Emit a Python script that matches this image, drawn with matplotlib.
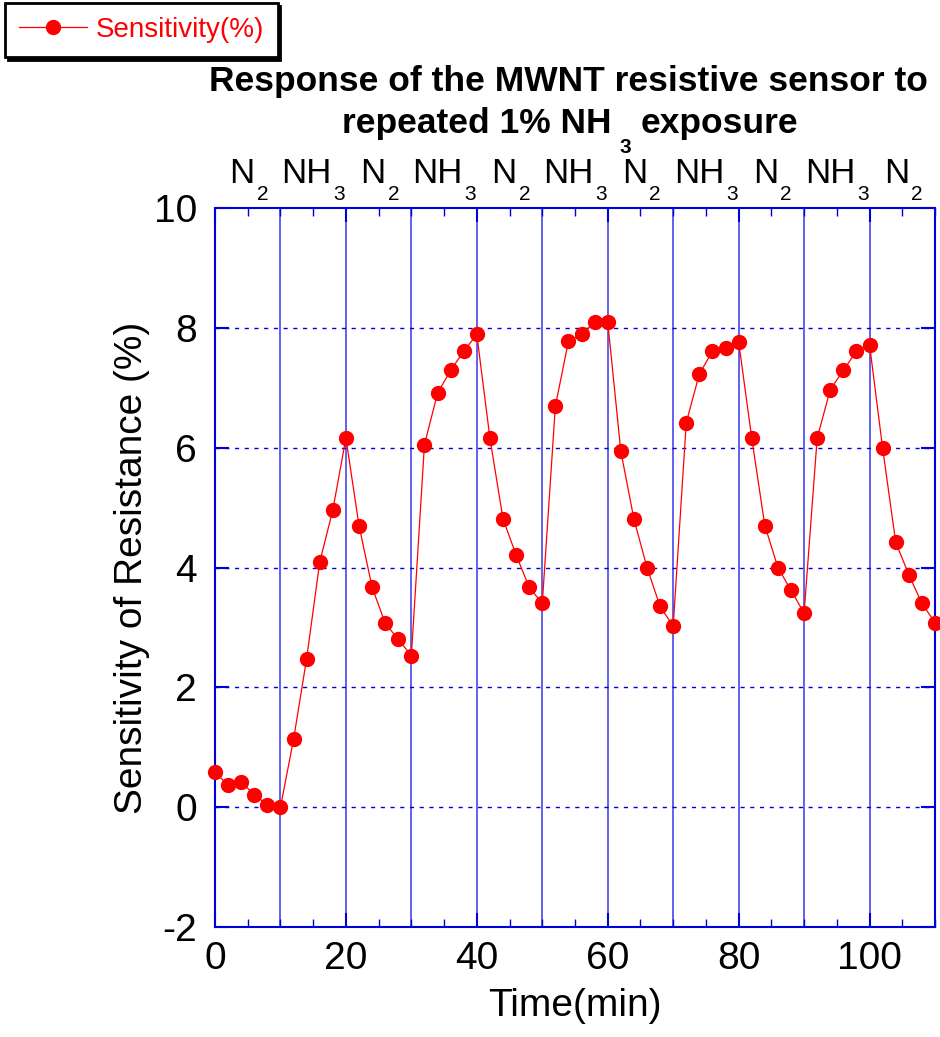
import numpy as np
import matplotlib.pyplot as plt

plt.rcParams['font.family'] = ['Liberation Sans', 'DejaVu Sans']
plt.rcParams['axes.unicode_minus'] = False

# sensitivity readings, one every 2 min
time_min = list(range(0, 112, 2))
sensitivity = [0.58, 0.37, 0.42, 0.21, 0.04, 0.00, 1.13, 2.48, 4.09, 4.96,
               6.16, 4.70, 3.67, 3.07, 2.80, 2.53, 6.05, 6.91, 7.29, 7.61,
               7.89, 6.16, 4.81, 4.21, 3.67, 3.40, 6.69, 7.78, 7.89, 8.10,
               8.10, 5.94, 4.81, 4.00, 3.35, 3.02, 6.42, 7.23, 7.61, 7.67,
               7.77, 6.16, 4.70, 4.00, 3.62, 3.24, 6.16, 6.97, 7.29, 7.61,
               7.72, 5.99, 4.42, 3.88, 3.40, 3.08]

# gas phases (10 min each)
phase_mid = [5, 15, 25, 35, 45, 55, 65, 75, 85, 95, 105]
phase_gas = ['N', 'NH', 'N', 'NH', 'N', 'NH', 'N', 'NH', 'N', 'NH', 'N']
phase_sub = ['2', '3', '2', '3', '2', '3', '2', '3', '2', '3', '2']
switch_times = [10, 20, 30, 40, 50, 60, 70, 80, 90, 100]

blue = '#0000dd'
W, H = 940, 1037

fig = plt.figure(figsize=(9.4, 10.37), dpi=100)
ax = fig.add_axes([215/W, 1-927/H, 720/W, 719/H])

for t in switch_times:
    ax.axvline(t, color='#5555ee', lw=1.3, zorder=1)
for yv in [0, 2, 4, 6, 8]:
    ax.axhline(yv, color=blue, lw=1.0, ls=(0, (3, 4)), zorder=1)

line, = ax.plot(time_min, sensitivity, color='red', lw=0.9, marker='o',
                markersize=10, markeredgecolor='red', zorder=3, clip_on=False,
                label='Sensitivity(%)')

ax.set_xlim(0, 110)
ax.set_ylim(-2, 10)
ax.set_xticks([0, 20, 40, 60, 80, 100])
ax.set_xticks(np.arange(0, 111, 5), minor=True)
ax.set_yticks([-2, 0, 2, 4, 6, 8, 10])
ax.tick_params(which='major', direction='in', length=10, width=1.5, color=blue,
               top=True, right=True, labelsize=28)
ax.tick_params(axis='x', which='major', pad=10)
ax.tick_params(axis='y', which='major', pad=13)
ax.tick_params(which='minor', direction='in', length=6, width=1.0, color=blue,
               top=True, right=True)
ax.tick_params(axis='y', which='minor', left=False, right=False)
for s in ax.spines.values():
    s.set_color(blue)
    s.set_linewidth(1.5)

ax.set_xlabel('Time(min)', fontsize=28, va='top')
ax.xaxis.set_label_coords(0.5, -0.085)
ax.set_ylabel('Sensitivity of Resistance (%)', fontsize=28)
ax.yaxis.set_label_coords(-0.09, 0.5)

# gas labels above the plot, with low subscripts
for xm, g, sb in zip(phase_mid, phase_gas, phase_sub):
    dx_main = 7 if g == 'N' else 18.5
    ax.annotate(g, (xm, 1), xycoords=('data', 'axes fraction'),
                xytext=(dx_main, 25), textcoords='offset pixels',
                ha='right', va='baseline', fontsize=25, annotation_clip=False)
    ax.annotate(sb, (xm, 1), xycoords=('data', 'axes fraction'),
                xytext=(dx_main + 2, 4), textcoords='offset pixels',
                ha='left', va='bottom', fontsize=15, annotation_clip=False)

fig.text(568/W, 1-91/H, 'Response of the MWNT resistive sensor to',
         ha='center', va='baseline', fontsize=25.5, fontweight='bold')
fig.text(612/W, 1-133/H, 'repeated 1% NH',
         ha='right', va='baseline', fontsize=25.5, fontweight='bold')
fig.text(619/W, 1-138/H, '3',
         ha='left', va='top', fontsize=15, fontweight='bold')
fig.text(641/W, 1-133/H, 'exposure',
         ha='left', va='baseline', fontsize=25.5, fontweight='bold')

leg = fig.legend(handles=[line], loc='upper left',
                 bbox_to_anchor=(5/W, 1-3/H), borderaxespad=0,
                 fancybox=False, shadow={'color': 'black', 'alpha': 1.0}, framealpha=1,
                 edgecolor='black', fontsize=20, handlelength=2.45,
                 handletextpad=0.3, borderpad=0.5)
leg.get_frame().set_linewidth(2)
for txt in leg.get_texts():
    txt.set_color('red')

fig.savefig('out.png', dpi=100)
